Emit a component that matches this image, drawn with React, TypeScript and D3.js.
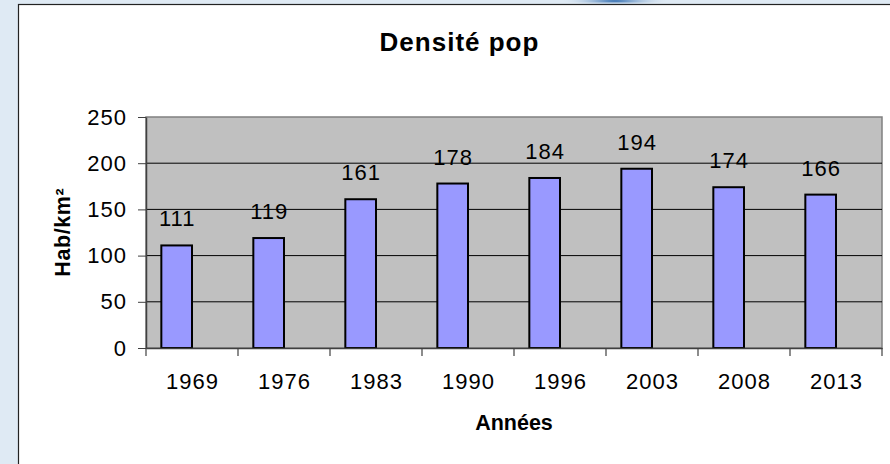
import React, { useEffect, useRef } from 'react';
import * as d3 from 'd3';

// data
const years = ['1969', '1976', '1983', '1990', '1996', '2003', '2008', '2013'];
const density = [111, 119, 161, 178, 184, 194, 174, 166];
const yTicks = [0, 50, 100, 150, 200, 250];
const seriesNames = ['Densité pop', ''];

const FONT = '"Liberation Sans", Arial, sans-serif';

const App = () => {
  const svgRef = useRef<SVGSVGElement>(null);

  useEffect(() => {
    const W = 890;
    const H = 464;
    const svg = d3.select(svgRef.current).attr('width', W).attr('height', H);
    svg.selectAll('*').remove();

    // page background + slide decoration
    const defs = svg.append('defs');
    const grad = defs.append('radialGradient').attr('id', 'swoosh');
    grad.append('stop').attr('offset', '0%').attr('stop-color', '#1f5fa8');
    grad.append('stop').attr('offset', '100%').attr('stop-color', '#dfeaf4').attr('stop-opacity', 0);

    svg.append('rect').attr('width', W).attr('height', H).attr('fill', '#dfeaf4');
    svg.append('ellipse')
      .attr('cx', 615).attr('cy', 1).attr('rx', 55).attr('ry', 4)
      .attr('fill', 'url(#swoosh)');

    // white chart panel
    svg.append('rect')
      .attr('x', 18.5).attr('y', 4.5)
      .attr('width', 900).attr('height', 500)
      .attr('fill', '#fff')
      .attr('stroke', '#222')
      .attr('stroke-width', 1.2);

    // plot area
    const left = 146, right = 882, top = 117, bottom = 348;

    const x = d3.scaleBand().domain(years).range([left, right]).padding(0);
    const x1 = d3.scaleBand().domain(seriesNames).range([0, x.bandwidth()])
      .paddingInner(0).paddingOuter(0.5);
    const y = d3.scaleLinear().domain([0, 250]).range([bottom, top]);

    svg.append('rect')
      .attr('x', left).attr('y', top)
      .attr('width', right - left).attr('height', bottom - top)
      .attr('fill', '#c0c0c0')
      .attr('stroke', '#808080')
      .attr('stroke-width', 1.5);

    // gridlines
    svg.append('g')
      .selectAll('line')
      .data(yTicks.filter(d => d > 0 && d < 250))
      .join('line')
      .attr('x1', left).attr('x2', right)
      .attr('y1', d => y(d)).attr('y2', d => y(d))
      .attr('stroke', '#000')
      .attr('stroke-width', 1);

    // bars
    svg.append('g')
      .selectAll('rect')
      .data(density)
      .join('rect')
      .attr('x', (d, i) => x(years[i])! + x1(seriesNames[0])!)
      .attr('y', d => y(d))
      .attr('width', x1.bandwidth())
      .attr('height', d => y(0) - y(d))
      .attr('fill', '#9999ff')
      .attr('stroke', '#000')
      .attr('stroke-width', 2);

    // value labels
    const ls = 1;
    svg.append('g')
      .selectAll('text')
      .data(density)
      .join('text')
      .attr('x', (d, i) => x(years[i])! + x1(seriesNames[0])! + x1.bandwidth() / 2)
      .attr('y', d => y(d) - 19)
      .attr('dx', ls / 2)
      .attr('text-anchor', 'middle')
      .style('font-family', FONT)
      .style('font-size', '22px')
      .style('letter-spacing', `${ls}px`)
      .attr('fill', '#000')
      .text(d => d);

    // y axis
    const yAxis = svg.append('g')
      .attr('transform', `translate(${left},0)`)
      .call(d3.axisLeft(y).tickValues(yTicks).tickSize(8).tickPadding(12).tickSizeOuter(0));
    yAxis.select('.domain').attr('stroke', '#404040').attr('stroke-width', 1.5);
    yAxis.selectAll('.tick line').attr('stroke', '#404040');
    yAxis.selectAll('.tick text')
      .attr('dx', ls)
      .style('font-family', FONT).style('font-size', '22px')
      .style('letter-spacing', `${ls}px`).attr('fill', '#000');

    // x axis: labels + boundary ticks
    const xAxis = svg.append('g')
      .attr('transform', `translate(0,${bottom})`)
      .call(d3.axisBottom(x).tickSize(0).tickPadding(25).tickSizeOuter(0));
    xAxis.select('.domain').attr('stroke', '#404040').attr('stroke-width', 1.5);
    xAxis.selectAll('.tick text')
      .attr('dx', ls / 2)
      .style('font-family', FONT).style('font-size', '22px')
      .style('letter-spacing', `${ls}px`).attr('fill', '#000');

    const edges = [...years.map(d => x(d)!), x.range()[1]];
    xAxis.append('g')
      .selectAll('line')
      .data(edges)
      .join('line')
      .attr('x1', d => d).attr('x2', d => d)
      .attr('y1', 0).attr('y2', 8)
      .attr('stroke', '#404040')
      .attr('stroke-width', 1.2);

    // titles
    svg.append('text')
      .attr('x', 459).attr('y', 51)
      .attr('dx', 0.5)
      .attr('text-anchor', 'middle')
      .style('font-family', FONT)
      .style('font-size', '26px')
      .style('font-weight', 'bold')
      .style('letter-spacing', '1px')
      .text('Densité pop');

    svg.append('text')
      .attr('x', (left + right) / 2).attr('y', 430)
      .attr('text-anchor', 'middle')
      .style('font-family', FONT)
      .style('font-size', '21.5px')
      .style('font-weight', 'bold')
      .text('Années');

    svg.append('text')
      .attr('transform', `translate(70,${(top + bottom) / 2}) rotate(-90)`)
      .attr('text-anchor', 'middle')
      .attr('dx', 0.3)
      .style('font-family', FONT)
      .style('font-size', '21.5px')
      .style('font-weight', 'bold')
      .style('letter-spacing', '0.6px')
      .text('Hab/km²');
  }, []);

  return (
    <div style={{ position: 'fixed', left: 0, top: 0 }}>
      <svg ref={svgRef} style={{ display: 'block' }}></svg>
    </div>
  );
};

export default App;
